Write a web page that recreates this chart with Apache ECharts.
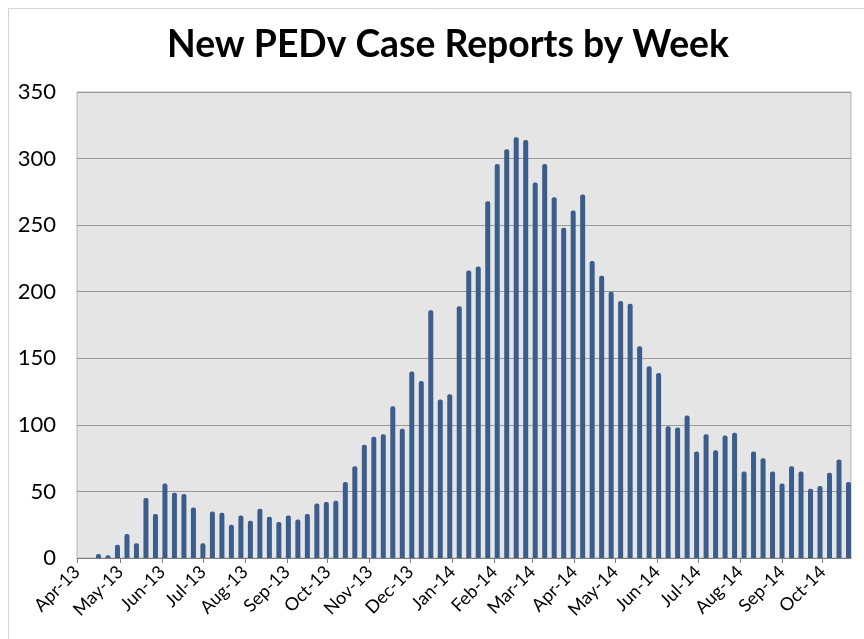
<!DOCTYPE html>
<html>
<head>
<meta charset="utf-8">
<script src="https://cdn.jsdelivr.net/npm/echarts@6/dist/echarts.min.js"></script>
<style>
  html, body { margin: 0; padding: 0; background: #fff; }
  #chart { width: 864px; height: 639px; }
</style>
</head>
<body>
<div id="chart"></div>
<script>
// week of report
const weeks = [
  '2013-04-15', '2013-04-22', '2013-04-29', '2013-05-06', '2013-05-13', '2013-05-20', '2013-05-27',
  '2013-06-03', '2013-06-10', '2013-06-17', '2013-06-24', '2013-07-01', '2013-07-08', '2013-07-15',
  '2013-07-22', '2013-07-29', '2013-08-05', '2013-08-12', '2013-08-19', '2013-08-26', '2013-09-02',
  '2013-09-09', '2013-09-16', '2013-09-23', '2013-09-30', '2013-10-07', '2013-10-14', '2013-10-21',
  '2013-10-28', '2013-11-04', '2013-11-11', '2013-11-18', '2013-11-25', '2013-12-02', '2013-12-09',
  '2013-12-16', '2013-12-23', '2013-12-30', '2014-01-06', '2014-01-13', '2014-01-20', '2014-01-27',
  '2014-02-03', '2014-02-10', '2014-02-17', '2014-02-24', '2014-03-03', '2014-03-10', '2014-03-17',
  '2014-03-24', '2014-03-31', '2014-04-07', '2014-04-14', '2014-04-21', '2014-04-28', '2014-05-05',
  '2014-05-12', '2014-05-19', '2014-05-26', '2014-06-02', '2014-06-09', '2014-06-16', '2014-06-23',
  '2014-06-30', '2014-07-07', '2014-07-14', '2014-07-21', '2014-07-28', '2014-08-04', '2014-08-11',
  '2014-08-18', '2014-08-25', '2014-09-01', '2014-09-08', '2014-09-15', '2014-09-22', '2014-09-29',
  '2014-10-06', '2014-10-13', '2014-10-20'
];
// new cases per week
const cases = [
  3, 2, 10, 18, 11, 45, 33,
  56, 49, 48, 38, 11, 35, 34,
  25, 32, 28, 37, 31, 27, 32,
  29, 33, 41, 42, 43, 57, 69,
  85, 91, 93, 114, 97, 140, 133,
  186, 119, 123, 189, 216, 219, 268,
  296, 307, 316, 314, 282, 296, 271,
  248, 261, 273, 223, 212, 200, 193,
  191, 159, 144, 139, 99, 98, 107,
  80, 93, 81, 92, 94, 65, 80,
  75, 65, 56, 69, 65, 52, 54,
  64, 74, 57
];
const monthNames = ['Jan', 'Feb', 'Mar', 'Apr', 'May', 'Jun', 'Jul', 'Aug', 'Sep', 'Oct', 'Nov', 'Dec'];
const axisStart = new Date(2013, 3, 1).getTime();
const axisEnd = new Date(2014, 9, 20).getTime();

const day = 24 * 3600 * 1000;
const chart = echarts.init(document.getElementById('chart'));
const font = 'Lato, "Liberation Sans", sans-serif';

chart.setOption({
  animation: false,
  backgroundColor: '#fff',
  textStyle: { fontFamily: font },
  title: {
    text: 'New PEDv Case Reports by Week',
    left: 162,
    top: 21,
    textStyle: { fontSize: 37.3, fontWeight: 'bold', color: '#000', fontFamily: font }
  },
  graphic: [{
    type: 'rect',
    shape: { x: 8.5, y: 8.5, width: 900, height: 700 },
    style: { fill: 'none', stroke: '#d4d4d4', lineWidth: 1 },
    silent: true
  }],
  grid: {
    left: 77,
    right: 13,
    top: 92,
    bottom: 81,
    show: true,
    backgroundColor: '#e5e5e5',
    borderColor: '#b4b4b4',
    borderWidth: 1
  },
  xAxis: {
    type: 'time',
    min: axisStart,
    max: axisEnd,
    minInterval: 28 * day,
    maxInterval: 31 * day,
    axisLine: { lineStyle: { color: '#7f7f7f', width: 1 } },
    axisTick: { show: true, length: 5, lineStyle: { color: '#7f7f7f' } },
    splitLine: { show: false },
    minorTick: { show: false },
    axisLabel: {
      rotate: 45,
      margin: 11,
      fontSize: 18,
      color: '#000',
      fontFamily: font,
      hideOverlap: false,
      showMinLabel: true,
      showMaxLabel: false,
      formatter: function (v) {
        // ticks sit on month starts; nudge forward so the min tick reads as its own month
        const d = new Date(v + 2 * day);
        return monthNames[d.getMonth()] + '-' + String(d.getFullYear()).slice(2);
      }
    }
  },
  yAxis: {
    type: 'value',
    min: 0,
    max: 350,
    interval: 50,
    axisLine: { show: false },
    axisTick: { show: false },
    axisLabel: { fontSize: 22, color: '#000', margin: 21, fontFamily: font },
    splitLine: { lineStyle: { color: '#9a9a9a', width: 1 } }
  },
  series: [{
    type: 'bar',
    data: weeks.map((w, i) => [w, cases[i]]),
    barWidth: 5,
    clip: true,
    itemStyle: { color: '#3a5d8b', borderRadius: [2, 2, 0, 0] }
  }]
});
</script>
</body>
</html>
